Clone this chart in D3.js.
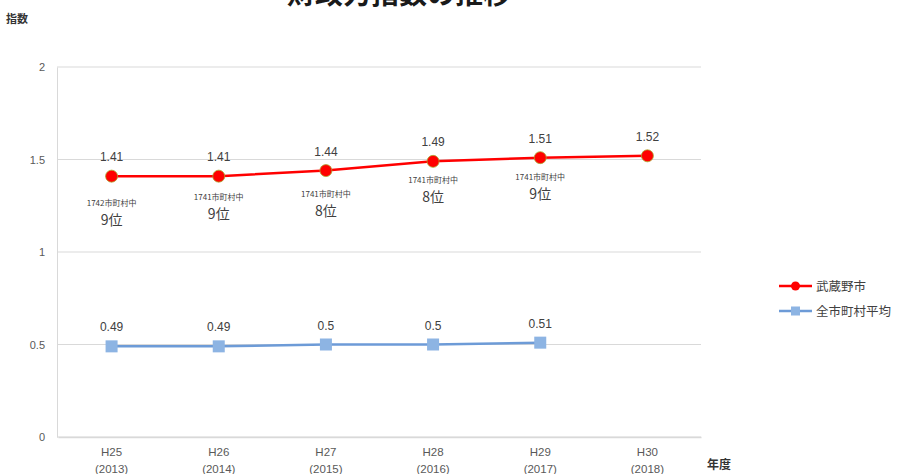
<!DOCTYPE html>
<html><head><meta charset="utf-8">
<script src="https://cdn.jsdelivr.net/npm/d3@7"></script>
<style>body{margin:0;background:#fff}svg{display:block}</style>
</head><body>
<svg id="c" width="910" height="474"></svg>
<script>
const categories = ["H25", "H26", "H27", "H28", "H29", "H30"];
const yearLabels = ["(2013)", "(2014)", "(2015)", "(2016)", "(2017)", "(2018)"];
const musashinoValues = [1.41, 1.41, 1.44, 1.49, 1.51, 1.52];
const averageValues = [0.49, 0.49, 0.5, 0.5, 0.51];
const rankTotals = ["1742市町村中", "1741市町村中", "1741市町村中", "1741市町村中", "1741市町村中"];
const rankValues = ["9位", "9位", "8位", "8位", "9位"];
const yTicks = [0, 0.5, 1, 1.5, 2];
const seriesNames = ["武蔵野市", "全市町村平均"];
// layout offsets (px) of rank labels below each point
const rankDy = [27, 21, 23, 19, 19];

(function () {
const svg = d3.select("#c");
const pL = 58, pR = 701, pT = 67, pB = 437;
const x = d3.scaleBand().domain(categories).range([pL, pR]);
const y = d3.scaleLinear().domain([0, 2]).range([pB, pT]);
const cx = d => x(d) + x.bandwidth() / 2;
const font = "'Liberation Sans', Arial, sans-serif";
const cjk = "'Noto Sans CJK JP', 'Noto Sans', sans-serif";

// title (partially cut off at top)
svg.append("text").attr("x", 399).attr("y", 4).attr("text-anchor", "middle")
  .attr("font-family", cjk).attr("font-weight", "bold").attr("font-size", 28)
  .attr("fill", "#1a1a1a").text("財政力指数の推移");

svg.append("text").attr("x", 6).attr("y", 23).attr("font-family", cjk)
  .attr("font-size", 11).attr("font-weight", "bold").attr("fill", "#333").text("指数");
svg.append("text").attr("x", 707).attr("y", 469).attr("font-family", cjk)
  .attr("font-size", 12).attr("font-weight", "bold").attr("fill", "#333").text("年度");

// gridlines
svg.append("g").selectAll("line").data(yTicks).join("line")
  .attr("x1", pL - 1).attr("x2", pR).attr("y1", d => y(d)).attr("y2", d => y(d))
  .attr("stroke", "#d9d9d9").attr("stroke-width", 1);
// y axis
const yAxis = svg.append("g").attr("transform", `translate(${pL - 1},0)`)
  .call(d3.axisLeft(y).tickValues(yTicks).tickSize(0).tickPadding(12).tickFormat(d => d));
yAxis.select(".domain").attr("stroke", "#d9d9d9");
yAxis.selectAll("text").attr("font-family", font).attr("font-size", 11).attr("fill", "#595959");

// x axis
const xAxis = svg.append("g").attr("transform", `translate(0,${pB})`)
  .call(d3.axisBottom(x).tickSize(0).tickPadding(0).tickFormat(""));
xAxis.select(".domain").attr("stroke", "#d9d9d9").attr("stroke-width", 1.5);
const xl = svg.append("g").selectAll("text").data(categories).join("text")
  .attr("x", d => cx(d)).attr("text-anchor", "middle")
  .attr("font-family", font).attr("font-size", 11.5).attr("fill", "#595959");
xl.append("tspan").attr("x", d => cx(d)).attr("y", 456).text(d => "H" + d.slice(1));
xl.append("tspan").attr("x", d => cx(d)).attr("y", 473).text((d, i) => yearLabels[i]);

// average line
const line = d3.line().x(d => cx(d[0])).y(d => y(d[1]));
const avg = averageValues.map((v, i) => [categories[i], v]);
svg.append("path").datum(avg).attr("d", line).attr("fill", "none")
  .attr("stroke", "#6d9bd7").attr("stroke-width", 2.5);
svg.append("g").selectAll("rect").data(avg).join("rect")
  .attr("x", d => cx(d[0]) - 6).attr("y", d => y(d[1]) - 6).attr("width", 12).attr("height", 12)
  .attr("fill", "#8db4e3");
svg.append("g").selectAll("text").data(avg).join("text")
  .attr("x", d => cx(d[0])).attr("y", d => y(d[1]) - 15).attr("text-anchor", "middle")
  .attr("font-family", font).attr("font-size", 12).attr("fill", "#404040").text(d => d[1]);

// musashino line
const mus = musashinoValues.map((v, i) => [categories[i], v]);
svg.append("path").datum(mus).attr("d", line).attr("fill", "none")
  .attr("stroke", "#ff0000").attr("stroke-width", 2.5);
svg.append("g").selectAll("circle").data(mus).join("circle")
  .attr("cx", d => cx(d[0])).attr("cy", d => y(d[1])).attr("r", 6)
  .attr("fill", "#ff0000").attr("stroke", "#a8a830").attr("stroke-width", 0.8);
svg.append("g").selectAll("text").data(mus).join("text")
  .attr("x", d => cx(d[0])).attr("y", d => y(d[1]) - 15).attr("text-anchor", "middle")
  .attr("font-family", font).attr("font-size", 12).attr("fill", "#404040").text(d => d[1]);

// rank labels
const rk = svg.append("g");
rankValues.forEach((r, i) => {
  const px = cx(categories[i]), py = y(musashinoValues[i]) + rankDy[i];
  rk.append("text").attr("x", px).attr("y", py + 3).attr("text-anchor", "middle")
    .attr("font-family", cjk).attr("font-size", 8).attr("fill", "#404040").text(rankTotals[i]);
  rk.append("text").attr("x", px).attr("y", py + 22).attr("text-anchor", "middle")
    .attr("font-family", cjk).attr("font-size", 14).attr("fill", "#404040").text(r);
});

// legend
const lg = svg.append("g");
[0, 1].forEach(i => {
  const ly = 286 + i * 25;
  lg.append("line").attr("x1", 779).attr("x2", 812).attr("y1", ly).attr("y2", ly)
    .attr("stroke", i === 0 ? "#ff0000" : "#6d9bd7").attr("stroke-width", 2.5);
  if (i === 0) lg.append("circle").attr("cx", 795.5).attr("cy", ly).attr("r", 4.5).attr("fill", "#ff0000");
  else lg.append("rect").attr("x", 791).attr("y", ly - 4.5).attr("width", 9).attr("height", 9).attr("fill", "#8db4e3");
  lg.append("text").attr("x", 816).attr("y", ly + 4.5).attr("font-family", cjk)
    .attr("font-size", 12.5).attr("fill", "#404040").text(seriesNames[i]);
});
})();
</script>
</body></html>
